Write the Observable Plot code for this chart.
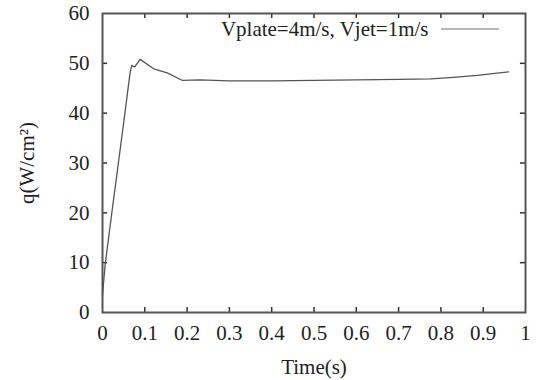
<!DOCTYPE html>
<html>
<head>
<meta charset="utf-8">
<script src="https://cdn.jsdelivr.net/npm/d3@7"></script>
<script src="https://cdn.jsdelivr.net/npm/@observablehq/plot@0.6"></script>
<style>
  html, body { margin: 0; padding: 0; background: #fff; }
  svg { display: block; }
  svg text { font-family: "Liberation Serif", "Times New Roman", serif !important; font-variant: normal !important; }
</style>
</head>
<body>
<div id="chart"></div>
<script>
const time = [0, 0.006, 0.022, 0.036, 0.053, 0.065, 0.069, 0.076, 0.089, 0.121, 0.153, 0.188, 0.23, 0.3, 0.4, 0.5, 0.6, 0.7, 0.775, 0.83, 0.886, 0.96];
const heatFlux = [3.4, 9.4, 20, 29, 40, 48, 49.6, 49.3, 50.8, 48.9, 48.1, 46.6, 46.7, 46.5, 46.5, 46.6, 46.7, 46.8, 46.9, 47.2, 47.6, 48.3];
const xTicks = [0, 0.1, 0.2, 0.3, 0.4, 0.5, 0.6, 0.7, 0.8, 0.9, 1];
const yTicks = [0, 10, 20, 30, 40, 50, 60];
const seriesLabel = "Vplate=4m/s, Vjet=1m/s";

const data = time.map((t, i) => ({t, q: heatFlux[i]}));
const innerX = xTicks.slice(1, -1);
const innerY = yTicks.slice(1, -1);
const font = "Liberation Serif, Times New Roman, serif";

const legendSample = (index, scales, values, dims) => {
  const x2 = dims.width - dims.marginRight - 26;
  const x1 = x2 - 58;
  const y = dims.marginTop + 16;
  const g = d3.create("svg:line")
    .attr("x1", x1).attr("x2", x2).attr("y1", y).attr("y2", y)
    .attr("stroke", "#a0a0a0").attr("stroke-width", 1.5);
  return g.node();
};

const chart = Plot.plot({
  width: 538,
  height: 380,
  marginLeft: 102,
  marginRight: 13,
  marginTop: 13,
  marginBottom: 68,
  style: {fontFamily: font, fontSize: "21px", color: "#222", background: "#fff"},
  x: {domain: [0, 1]},
  y: {domain: [0, 60]},
  marks: [
    Plot.axisX(xTicks, {tickSize: 0, tickPadding: 13, fontSize: 21, label: "Time(s)", labelArrow: "none", labelAnchor: "center", labelOffset: 61, tickFormat: d => String(d)}),
    Plot.axisY(yTicks, {tickSize: 0, tickPadding: 13, fontSize: 21, label: "q(W/cm²)", labelArrow: "none", labelAnchor: "center", labelOffset: 83}),
    Plot.ruleX(innerX, {x: d => d, y1: 0, y2: 1.0, stroke: "#333", strokeWidth: 1.5}),
    Plot.ruleX(innerX, {x: d => d, y1: 60, y2: 59, stroke: "#333", strokeWidth: 1.5}),
    Plot.ruleY(innerY, {y: d => d, x1: 0, x2: 0.012, stroke: "#333", strokeWidth: 1.5}),
    Plot.ruleY(innerY, {y: d => d, x1: 1, x2: 0.988, stroke: "#333", strokeWidth: 1.5}),
    Plot.line(data, {x: "t", y: "q", stroke: "#555", strokeWidth: 1.3}),
    Plot.frame({stroke: "#555", strokeWidth: 2}),
    Plot.text([seriesLabel], {frameAnchor: "top-right", text: d => d, textAnchor: "end", lineAnchor: "middle", dx: -97, dy: 16, fontSize: 21, fill: "#222"}),
    legendSample
  ]
});
document.getElementById("chart").appendChild(chart);
</script>
</body>
</html>
